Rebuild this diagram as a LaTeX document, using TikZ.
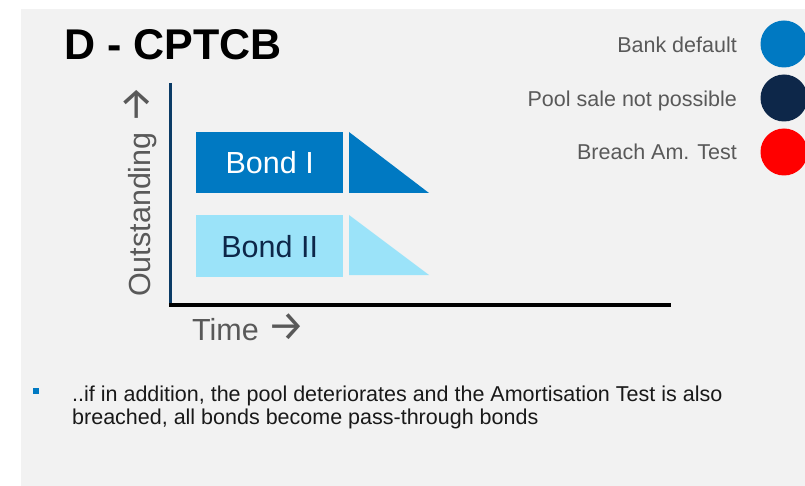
\documentclass[tikz,border=0pt]{standalone}
\usepackage{fontspec}
\setmainfont{Liberation Sans}
\newfontfamily\arrowfont{Fira Sans}
\newcommand{\bigarrowglyph}{{\arrowfont\fontsize{42}{44}\selectfont →}}
\definecolor{bggray}{HTML}{F2F2F2}
\definecolor{txtgray}{HTML}{595959}
\definecolor{bondblue}{HTML}{0079C2}
\definecolor{bondlight}{HTML}{9BE3F9}
\definecolor{navy}{HTML}{0D2749}
\definecolor{axisnavy}{HTML}{0B3B66}
\definecolor{redc}{HTML}{FF0000}
\begin{document}
\begin{tikzpicture}[x=1pt,y=-1pt,
  legendtxt/.style={anchor=base east,inner sep=0pt,text=txtgray,font=\fontsize{21.5}{24}\selectfont},
  dot/.style={circle,minimum size=47pt,inner sep=0pt},
  bondbox/.style={anchor=north west,minimum width=147pt,minimum height=61pt,inner sep=0pt,font=\fontsize{30.5}{34}\selectfont},
  axislabel/.style={inner sep=0pt,text=txtgray,font=\fontsize{30.5}{34}\selectfont},
  bodytxt/.style={anchor=base west,inner sep=0pt,text=black!90,font=\fontsize{21.5}{24}\selectfont}]
\useasboundingbox (0,0) rectangle (805,486);
\fill[bggray] (21,9) rectangle (805,486);
% title
\node[anchor=base west,inner sep=0pt,font=\fontsize{43}{48}\selectfont\bfseries] (title) at (64,60) {D - CPTCB};
% legend
\node[legendtxt] (l1) at (737,53) {Bank default};
\node[legendtxt] (l2) at (737,107) {Pool sale not possible};
\node[legendtxt] (l3) at (737,160) {Breach Am. Test};
\node[dot,fill=bondblue] (c1) at (784,44) {};
\node[dot,fill=navy] (c2) at (784,98) {};
\node[dot,fill=redc] (c3) at (784,152) {};
% axes
\coordinate (ytop) at (170.5,83);
\coordinate (origin) at (170.5,305);
\coordinate (xend) at (671,305);
\draw[axisnavy,line width=3.5pt] (ytop) -- ([yshift=2pt]origin);
\draw[black,line width=4pt] ([xshift=-1.5pt]origin) -- (xend);
% bonds
\node[bondbox,fill=bondblue,text=white] (b1) at (196,132) {Bond I};
\node[bondbox,fill=bondlight,text=navy,minimum height=62pt] (b2) at (196,215) {Bond II};
\fill[bondblue] (349,132) -- (349,193) -- (429,193) -- cycle;
\fill[bondlight] (349,215) -- (349,275) -- (429,275) -- cycle;
% axis labels
\node[axislabel,anchor=base west,rotate=90] (ylab) at (150,297) {Outstanding \bigarrowglyph};
\node[axislabel,anchor=base west] (xlab) at (192,340) {Time \bigarrowglyph};
% bullet
\fill[bondblue] (33,388) rectangle (39,394);
\node[bodytxt] (txt1) at (72,401) {..if in addition, the pool deteriorates and the Amortisation Test is also};
\node[bodytxt] (txt2) at (72,424) {breached, all bonds become pass-through bonds};
\end{tikzpicture}
\end{document}
